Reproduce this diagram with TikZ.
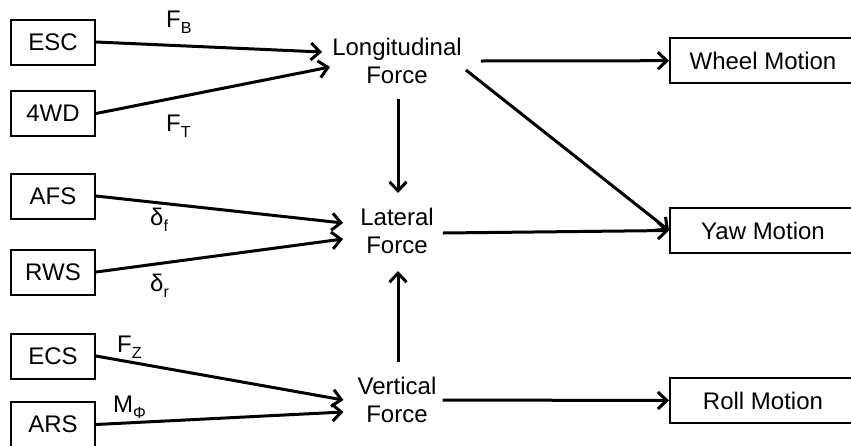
\documentclass[tikz,border=0pt]{standalone}
\usepackage{fontspec}
\setmainfont{Liberation Sans}
\usetikzlibrary{arrows.meta,calc}
% lowered, smaller index after a symbol
\newcommand\lowsub[1]{\raisebox{-6pt}{\fontsize{16}{16}\selectfont #1}}
\begin{document}
\begin{tikzpicture}[x=1pt,y=-1pt,
  every node/.style={font=\fontsize{24}{28}\selectfont, text=black},
  srcbox/.style={draw, line width=2pt, minimum width=84pt, minimum height=45pt, inner sep=0pt},
  motionbox/.style={draw, line width=2pt, minimum width=186pt, minimum height=45pt, inner sep=0pt},
  force/.style={align=center, inner sep=0pt},
  lbl/.style={anchor=base west, inner sep=0pt},
  flow/.style={line width=3pt, -{Straight Barb[length=9pt,width=17pt]}}]
\useasboundingbox (0,0) rectangle (851,445);

% actuator boxes
\node[srcbox] (esc) at (53,42)    {ESC};
\node[srcbox] (fwd) at (53,113.5) {4WD};
\node[srcbox] (afs) at (53,196)   {AFS};
\node[srcbox] (rws) at (53,272)   {RWS};
\node[srcbox] (ecs) at (53,356)   {ECS};
\node[srcbox] (ars) at (53,424.5) {ARS};

% tyre forces
\node[force] (lon) at (397,60.5) {Longitudinal\\Force};
\node[force] (lat) at (397,231)  {Lateral\\Force};
\node[force] (ver) at (397,400)  {Vertical\\Force};

% vehicle motions
\node[motionbox] (wheel) at (763,60.7)  {Wheel Motion};
\node[motionbox] (yaw)   at (763,230.5) {Yaw Motion};
\node[motionbox] (roll)  at (763,400.5) {Roll Motion};

% actuator outputs
\node[lbl] (fb) at (166,27)  {F\lowsub{B}};
\node[lbl] (ft) at (166,131) {F\lowsub{T}};
\node[lbl] (df) at (150,225) {δ\lowsub{f}};
\node[lbl] (dr) at (150,291) {δ\lowsub{r}};
\node[lbl] (fz) at (117,352) {F\lowsub{Z}};
\node[lbl] (mp) at (113,412) {M\lowsub{Φ}};

% actuators to forces
\draw[flow] (esc.east) -- ($(lon.west)+(-10,-8.5)$);
\draw[flow] (fwd.east) -- ($(lon.west)+(-2,6.5)$);
\draw[flow] (afs.east) -- ($(lat.west)+(-17,-8)$);
\draw[flow] (rws.east) -- ($(lat.west)+(-17,8)$);
\draw[flow] (ecs.east) -- ($(ver.west)+(-14,0)$);
\draw[flow] (ars.east) -- ($(ver.west)+(-14,12)$);

% coupling between forces
\draw[flow] ($(lon.south)+(1,15)$) -- ($(lat.north)+(1,-15)$);
\draw[flow] ($(ver.north)+(1,-15)$) -- ($(lat.south)+(1,17)$);

% forces to motions
\draw[flow] ($(lon.east)+(19,0.5)$) -- (wheel.west);
\draw[flow] ($(lon.east)+(4,9.5)$) -- (yaw.west);
\draw[flow] ($(lat.east)+(9,2)$) -- (yaw.west);
\draw[flow] ($(ver.east)+(6,0)$) -- (roll.west);
\end{tikzpicture}
\end{document}
